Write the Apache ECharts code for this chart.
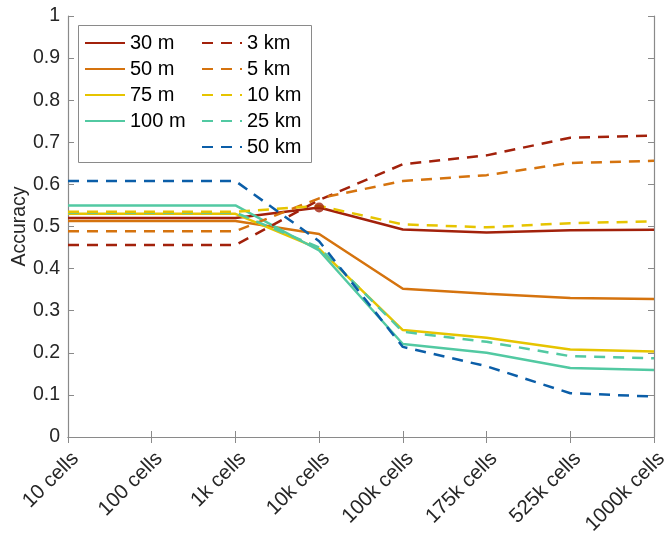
<!DOCTYPE html>
<html><head><meta charset="utf-8">
<script src="https://cdn.jsdelivr.net/npm/echarts@6/dist/echarts.min.js"></script>
<style>html,body{margin:0;padding:0;background:#fff}#c{width:667px;height:535px}</style>
</head><body><div id="c"></div>
<script>
const categories = ['10 cells','100 cells','1k cells','10k cells','100k cells','175k cells','525k cells','1000k cells'];
const yTicks = [0,0.1,0.2,0.3,0.4,0.5,0.6,0.7,0.8,0.9,1];
const m30  = [0.520,0.520,0.520,0.545,0.493,0.486,0.491,0.492];
const m50  = [0.513,0.513,0.513,0.482,0.352,0.340,0.330,0.328];
const m75  = [0.530,0.530,0.530,0.447,0.254,0.236,0.208,0.203];
const m100 = [0.550,0.550,0.550,0.443,0.221,0.200,0.164,0.159];
const km3  = [0.456,0.456,0.456,0.563,0.648,0.669,0.711,0.716];
const km5  = [0.489,0.489,0.489,0.567,0.608,0.622,0.651,0.656];
const km10 = [0.535,0.535,0.535,0.549,0.505,0.498,0.508,0.512];
const km25 = [0.533,0.533,0.533,0.450,0.250,0.226,0.192,0.187];
const km50 = [0.608,0.608,0.608,0.465,0.214,0.168,0.104,0.096];
const markerIndex = 3;

const C = {red:'#A2210B', orange:'#D5730E', yellow:'#E6C400', teal:'#52C9A2', blue:'#0B5EA8'};
const FONT = 'Liberation Sans';
const chart = echarts.init(document.getElementById('c'), null, {renderer:'canvas'});

function ln(name, data, color, dashed, z){
  return {name, type:'line', data, symbol:'none', z,
    lineStyle:{color, width:2.5, type: dashed ? [11,8] : 'solid'},
    itemStyle:{color}, emphasis:{disabled:true}, animation:false};
}
const tickStyle = {show:true, inside:true, length:6, lineStyle:{color:'#8a8a8a', width:1}};
const axisLine = {show:true, lineStyle:{color:'#8a8a8a', width:1.2}};
const legendCommon = {orient:'vertical', top:33, padding:0, itemWidth:40, itemHeight:14, itemGap:6,
  textStyle:{fontFamily:FONT, fontSize:20, color:'#000'}, selectedMode:false,
  itemStyle:{opacity:0}};

chart.setOption({
  animation:false,
  grid:{left:68, right:13, top:16, bottom:98, containLabel:false, outerBoundsMode:'none'},
  legend:[
    Object.assign({data:['30 m','50 m','75 m','100 m'], left:84, itemTextGap:5}, legendCommon),
    Object.assign({data:['3 km','5 km','10 km','25 km','50 km'], left:201, itemTextGap:4}, legendCommon)
  ],
  graphic:[{type:'rect', shape:{x:78.5, y:25.5, width:233, height:137},
    style:{fill:'#fff', stroke:'#8a8a8a', lineWidth:1}, z:-1, zlevel:0}],
  xAxis:[
    {type:'category', data:categories, boundaryGap:false, axisLine, axisTick:tickStyle,
     axisLabel:{rotate:45, fontFamily:FONT, fontSize:20.5, color:'#262626', margin:11, interval:0,
       verticalAlign:'top'}},
    {type:'category', data:categories, boundaryGap:false, position:'top', axisLine, axisTick:tickStyle,
     axisLabel:{show:false}}
  ],
  yAxis:[
    {type:'value', min:0, max:1, interval:0.1, axisLine, axisTick:tickStyle, splitLine:{show:false},
     name:'Accuracy', nameLocation:'middle', nameGap:38, nameRotate:90, nameMoveOverlap:false,
     nameTextStyle:{fontFamily:FONT, fontSize:19.5, color:'#262626'},
     axisLabel:{fontFamily:FONT, fontSize:19.5, color:'#262626', margin:8,
       formatter:v=>{const t=yTicks.find(x=>Math.abs(x-v)<1e-6);return t===undefined?'':String(t);}}},
    {type:'value', min:0, max:1, interval:0.1, position:'right', axisLine, axisTick:tickStyle,
     splitLine:{show:false}, axisLabel:{show:false}}
  ],
  series:[
    ln('30 m', m30, C.red, false, 2),
    ln('50 m', m50, C.orange, false, 2),
    ln('75 m', m75, C.yellow, false, 2),
    ln('100 m', m100, C.teal, false, 2),
    ln('3 km', km3, C.red, true, 3),
    ln('5 km', km5, C.orange, true, 3),
    ln('25 km', km25, C.teal, true, 3),
    ln('10 km', km10, C.yellow, true, 4),
    ln('50 km', km50, C.blue, true, 4),
    {type:'scatter', data:[[markerIndex, m30[markerIndex]]], symbol:'circle', symbolSize:10,
     itemStyle:{color:C.red}, z:5, silent:true}
  ]
});
</script></body></html>
